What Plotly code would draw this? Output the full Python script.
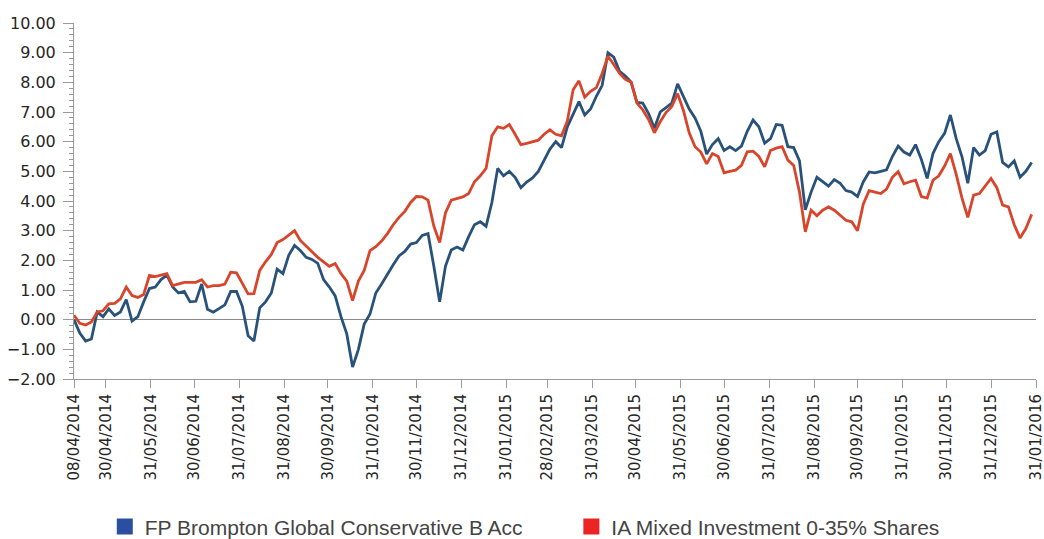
import pandas as pd
import plotly.graph_objects as go

# ---- data (cumulative % performance, sampled every 4 calendar days) ----
start_date = "2014-04-08"
step = "4D"

fund_name = "FP Brompton Global Conservative B Acc"
sector_name = "IA Mixed Investment 0-35% Shares"

fund_values = [
    0.0, -0.45, -0.72, -0.65, 0.26, 0.1, 0.36, 0.14, 0.26, 0.68,
    -0.05, 0.1, 0.6, 1.05, 1.1, 1.35, 1.5, 1.1, 0.9, 0.95,
    0.6, 0.62, 1.2, 0.35, 0.25, 0.38, 0.5, 0.95, 0.95, 0.45,
    -0.54, -0.72, 0.4, 0.6, 0.9, 1.7, 1.55, 2.17, 2.5, 2.33,
    2.1, 2.03, 1.9, 1.35, 1.1, 0.8, 0.1, -0.48, -1.6, -1.0,
    -0.15, 0.19, 0.9, 1.2, 1.55, 1.85, 2.15, 2.3, 2.55, 2.6,
    2.84, 2.9, 1.8, 0.6, 1.8, 2.35, 2.45, 2.35, 2.8, 3.2,
    3.3, 3.15, 3.95, 5.1, 4.85, 5.0, 4.8, 4.45, 4.64, 4.78,
    5.0, 5.35, 5.75, 6.0, 5.8, 6.5, 6.9, 7.35, 6.9, 7.1,
    7.53, 7.9, 9.0, 8.85, 8.37, 8.21, 8.0, 7.32, 7.3, 6.95,
    6.45, 7.0, 7.15, 7.3, 7.95, 7.55, 7.1, 6.8, 6.35, 5.58,
    5.9, 6.1, 5.7, 5.83, 5.7, 5.85, 6.35, 6.73, 6.5, 5.95,
    6.1, 6.58, 6.55, 5.83, 5.8, 5.35, 3.7, 4.3, 4.8, 4.65,
    4.5, 4.72, 4.6, 4.35, 4.3, 4.15, 4.65, 4.98, 4.95, 5.0,
    5.05, 5.5, 5.85, 5.65, 5.55, 5.9, 5.4, 4.76, 5.6, 6.0,
    6.28, 6.9, 6.1, 5.49, 4.6, 5.8, 5.55, 5.7, 6.25, 6.33,
    5.3, 5.15, 5.35, 4.8, 5.0, 5.3,
]

sector_values = [
    0.15, -0.12, -0.18, -0.08, 0.26, 0.3, 0.53, 0.55, 0.7, 1.1,
    0.81, 0.75, 0.85, 1.49, 1.45, 1.5, 1.55, 1.15, 1.2, 1.26,
    1.26, 1.26, 1.35, 1.1, 1.15, 1.15, 1.2, 1.6, 1.58, 1.2,
    0.87, 0.88, 1.66, 1.95, 2.2, 2.6, 2.7, 2.85, 3.0, 2.67,
    2.48, 2.28, 2.1, 1.95, 1.8, 1.89, 1.55, 1.3, 0.64, 1.3,
    1.66, 2.33, 2.46, 2.65, 2.9, 3.2, 3.45, 3.65, 3.95, 4.15,
    4.14, 4.03, 3.15, 2.6, 3.6, 4.03, 4.08, 4.14, 4.25, 4.65,
    4.85, 5.1, 6.2, 6.5, 6.45, 6.58, 6.25, 5.9, 5.94, 6.0,
    6.05, 6.25, 6.4, 6.25, 6.2, 6.7, 7.75, 8.05, 7.5, 7.7,
    7.82, 8.3, 8.88, 8.6, 8.3, 8.1, 8.0, 7.3, 7.07, 6.75,
    6.3, 6.67, 6.98, 7.19, 7.62, 7.05, 6.3, 5.83, 5.65, 5.25,
    5.6, 5.5, 4.95, 5.0, 5.04, 5.2, 5.66, 5.68, 5.5, 5.15,
    5.7, 5.78, 5.83, 5.38, 5.2, 4.3, 2.96, 3.69, 3.5, 3.69,
    3.8, 3.69, 3.52, 3.35, 3.3, 3.0, 3.9, 4.35, 4.3, 4.25,
    4.4, 4.8, 4.99, 4.58, 4.65, 4.7, 4.15, 4.1, 4.7, 4.85,
    5.18, 5.6, 4.9, 4.1, 3.45, 4.2, 4.25, 4.5, 4.76, 4.45,
    3.86, 3.8, 3.2, 2.75, 3.07, 3.55,
]

tick_dates = [
    "2014-04-08", "2014-04-30", "2014-05-31", "2014-06-30", "2014-07-31",
    "2014-08-31", "2014-09-30", "2014-10-31", "2014-11-30", "2014-12-31",
    "2015-01-31", "2015-02-28", "2015-03-31", "2015-04-30", "2015-05-31",
    "2015-06-30", "2015-07-31", "2015-08-31", "2015-09-30", "2015-10-31",
    "2015-11-30", "2015-12-31", "2016-01-31",
]
tick_labels = [
    "08/04/2014", "30/04/2014", "31/05/2014", "30/06/2014", "31/07/2014",
    "31/08/2014", "30/09/2014", "31/10/2014", "30/11/2014", "31/12/2014",
    "31/01/2015", "28/02/2015", "31/03/2015", "30/04/2015", "31/05/2015",
    "30/06/2015", "31/07/2015", "31/08/2015", "30/09/2015", "31/10/2015",
    "30/11/2015", "31/12/2015", "31/01/2016",
]

# ---- styling ----
fund_line = "#29527a"
sector_line = "#d8452a"
fund_key = "#2c4ea0"
sector_key = "#ec2424"
axis_col = "#9a9a9a"
text_col = "#262626"

dates = pd.date_range(start_date, periods=len(fund_values), freq=step)

fig = go.Figure()
fig.add_trace(go.Scatter(x=dates, y=fund_values, mode="lines",
                         line=dict(color=fund_line, width=2.8),
                         showlegend=False, name=fund_name))
fig.add_trace(go.Scatter(x=dates, y=sector_values, mode="lines",
                         line=dict(color=sector_line, width=2.8),
                         showlegend=False, name=sector_name))
# legend keys (squares)
fig.add_trace(go.Scatter(x=[None], y=[None], mode="markers", name=fund_name,
                         marker=dict(symbol="square", size=18, color=fund_key),
                         legend="legend"))
fig.add_trace(go.Scatter(x=[None], y=[None], mode="markers", name=sector_name,
                         marker=dict(symbol="square", size=18, color=sector_key),
                         legend="legend2"))

legend_font = dict(family="Liberation Sans, Arial, sans-serif", size=21, color="#444444")

fig.update_layout(
    width=1044, height=539,
    margin=dict(l=74, r=8, t=23, b=160, autoexpand=False),
    paper_bgcolor="white", plot_bgcolor="white",
    showlegend=True,
    legend=dict(x=0.032, y=-0.358, xanchor="left", yanchor="top",
                orientation="h", font=legend_font, bgcolor="rgba(0,0,0,0)"),
    legend2=dict(x=0.517, y=-0.358, xanchor="left", yanchor="top",
                 orientation="h", font=legend_font, bgcolor="rgba(0,0,0,0)"),
    xaxis=dict(
        type="date", range=[tick_dates[0], tick_dates[-1]],
        tickvals=tick_dates, ticktext=tick_labels, tickangle=-90,
        showgrid=False, zeroline=False, showline=True, linecolor=axis_col,
        linewidth=1, ticks="outside", ticklen=8, tickcolor=axis_col,
        ticklabeloverflow="allow",
        tickfont=dict(family="DejaVu Sans, Verdana, sans-serif", size=15, color=text_col),
        automargin=False,
    ),
    yaxis=dict(
        range=[-2, 10], dtick=1, tick0=0, tickformat=".2f",
        showgrid=False, zeroline=True, zerolinecolor="#8a8a8a", zerolinewidth=1,
        showline=True, linecolor=axis_col, linewidth=1,
        ticks="outside", ticklen=10, tickcolor=axis_col, ticklabelstandoff=4,
        minor=dict(dtick=0.2, ticks="outside", ticklen=4, tickcolor=axis_col),
        tickfont=dict(family="DejaVu Sans, Verdana, sans-serif", size=16, color=text_col),
        automargin=False,
    ),
)

fig.write_html("out.html", config={"displayModeBar": False},
               post_script="document.body.style.margin='0';")
